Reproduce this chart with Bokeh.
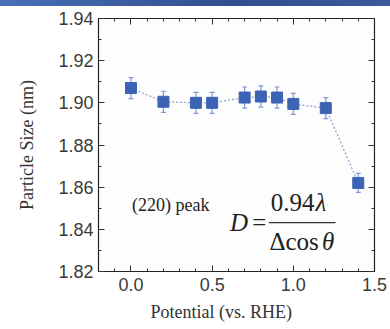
from bokeh.plotting import figure
from bokeh.models import (ColumnDataSource, LinearAxis, Range1d, Whisker, Label,
                          FixedTicker, Div, PrintfTickFormatter, Title)
from bokeh.layouts import column
from bokeh.embed import file_html
from bokeh.resources import INLINE

# data
potential = [0.0, 0.2, 0.4, 0.5, 0.7, 0.8, 0.9, 1.0, 1.2, 1.4]
size_nm = [1.907, 1.9005, 1.900, 1.900, 1.9025, 1.903, 1.9025, 1.8995, 1.8975, 1.862]
err = [0.005, 0.005, 0.005, 0.005, 0.005, 0.005, 0.005, 0.005, 0.005, 0.0045]
x_ticks = [0.0, 0.5, 1.0, 1.5]
y_ticks = [1.82, 1.84, 1.86, 1.88, 1.90, 1.92, 1.94]
x_title = "Potential (vs. RHE)"
y_title = "Particle Size (nm)"

src = ColumnDataSource(dict(
    x=potential, y=size_nm,
    lo=[v - e for v, e in zip(size_nm, err)],
    hi=[v + e for v, e in zip(size_nm, err)],
))

p = figure(width=390, height=323, output_backend="svg", toolbar_location=None,
           x_range=Range1d(-0.2, 1.5), y_range=Range1d(1.82, 1.94),
           min_border_left=98, min_border_right=16, min_border_top=12,
           min_border_bottom=58)
p.background_fill_color = "#fdfdfd"
p.border_fill_color = "#ffffff"
p.outline_line_color = "#222222"
p.outline_line_width = 1.2
p.grid.visible = False

serif = "Liberation Serif"
sans = "Liberation Sans"

def style_axis(ax, show_labels=True):
    ax.axis_line_color = "#222222"
    ax.major_tick_in = 6
    ax.major_tick_out = 0
    ax.minor_tick_in = 3
    ax.minor_tick_out = 0
    ax.major_tick_line_color = "#333333"
    ax.minor_tick_line_color = "#333333"
    ax.major_label_text_font = sans
    ax.major_label_text_font_size = "18px"
    ax.major_label_text_color = "#3a3a3a"
    if not show_labels:
        ax.major_label_text_font_size = "0px"
        ax.major_label_text_color = None

xax = p.xaxis[0]
yax = p.yaxis[0]
xax.ticker = FixedTicker(ticks=x_ticks, minor_ticks=[round(-0.2 + 0.1 * i, 2) for i in range(18)])
yax.ticker = FixedTicker(ticks=y_ticks, minor_ticks=[round(1.82 + 0.01 * i, 2) for i in range(13)])
xax.formatter = PrintfTickFormatter(format="%.1f")
yax.formatter = PrintfTickFormatter(format="%.2f")
style_axis(xax)
style_axis(yax)
xax.major_label_standoff = 6
yax.major_label_standoff = 5
yax.axis_label = y_title
yax.axis_label_text_font = serif
yax.axis_label_text_font_style = "normal"
yax.axis_label_text_font_size = "18px"
yax.axis_label_text_color = "#333333"
yax.axis_label_standoff = 18

top = LinearAxis(ticker=FixedTicker(ticks=x_ticks, minor_ticks=xax.ticker.minor_ticks))
right = LinearAxis(ticker=FixedTicker(ticks=y_ticks, minor_ticks=yax.ticker.minor_ticks))
style_axis(top, False)
style_axis(right, False)
p.add_layout(top, "above")
p.add_layout(right, "right")

p.add_layout(Title(text=x_title, align="left", offset=52, standoff=13,
                   text_font=serif, text_font_style="normal", text_font_size="18px",
                   text_color="#333333"), "below")

p.line("x", "y", source=src, line_color="#8aa0c8", line_width=1.2, line_dash="2 2")
p.add_layout(Whisker(source=src, base="x", lower="lo", upper="hi",
                     line_color="#7d9ad6", line_width=1.2,
                     upper_head=None, lower_head=None))
p.segment(x0=[v - 0.015 for v in potential], x1=[v + 0.015 for v in potential],
          y0=src.data["hi"], y1=src.data["hi"], line_color="#7d9ad6", line_width=1.2)
p.segment(x0=[v - 0.015 for v in potential], x1=[v + 0.015 for v in potential],
          y0=src.data["lo"], y1=src.data["lo"], line_color="#7d9ad6", line_width=1.2)
p.scatter("x", "y", source=src, marker="square", size=11,
          fill_color="#3d63b5", line_color="#3d63b5")

# annotations
def lab(x, y, t, size, style="normal", align="center", color="#222222"):
    p.add_layout(Label(x=x, y=y, text=t, text_font=serif, text_font_size=size,
                       text_font_style=style, text_align=align,
                       text_baseline="middle", text_color=color))

lab(0.245, 1.8515, "(220) peak", "18px")
lab(0.665, 1.8432, "D", "25px", "italic")
lab(0.79, 1.8432, "=", "25px")
lab(0.995, 1.8525, "0.94", "25px")
lab(1.17, 1.8525, "λ", "25px", "italic")
lab(1.005, 1.8340, "Δcos", "25px")
lab(1.215, 1.8340, "θ", "25px", "italic")
p.segment(x0=[0.85], x1=[1.26], y0=[1.8432], y1=[1.8432], line_color="#333333", line_width=1.2)

band = Div(width=390, height=6, margin=(0, 0, 0, 0),
           styles={"background": "linear-gradient(to right, #4a6fb5, #2f4f8f 60%, #3a5a9a)"})
layout = column(band, p, spacing=0, margin=(0, 0, 0, 0))

open("out.html", "w").write(file_html(layout, INLINE))
